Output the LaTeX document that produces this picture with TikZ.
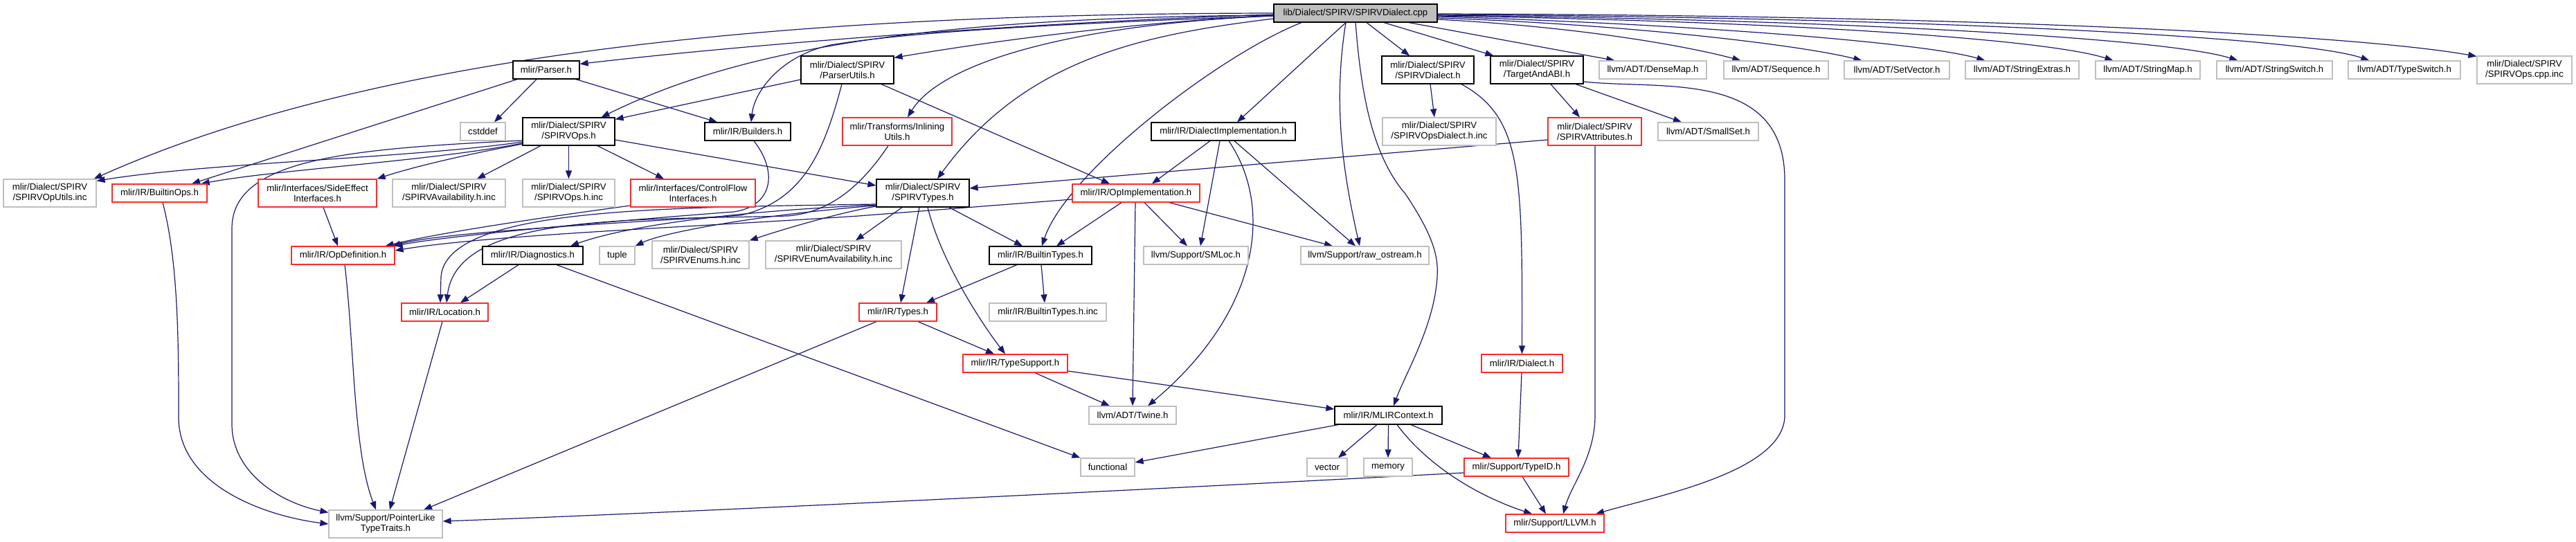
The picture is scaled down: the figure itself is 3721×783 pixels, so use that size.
\documentclass[tikz,border=0pt]{standalone}
\usepackage{fontspec}
\setmainfont{Liberation Sans}
\usetikzlibrary{arrows.meta}
\definecolor{edgec}{HTML}{191970}
\definecolor{grayb}{HTML}{BFBFBF}
\definecolor{redb}{HTML}{FF2A2A}
\definecolor{rootf}{HTML}{BFBFBF}
\pgfdeclarelayer{edgelayer}
\pgfsetlayers{edgelayer,main}
\begin{document}
\begin{tikzpicture}[x=1pt,y=-1pt,
  base/.style={rectangle, inner sep=0pt, align=center, font=\fontsize{13.2}{15}\selectfont, fill=white, line width=1.2pt},
  bb/.style={base, draw=black},
  gb/.style={base, draw=grayb},
  rb/.style={base, draw=redb},
  e/.style={draw=edgec, line width=1.2pt, -{Triangle[length=12pt,width=9pt]}, fill=none}]
\useasboundingbox (0,0) rectangle (3721,783);
% ---------- nodes ----------
\node[bb, fill=rootf, minimum width=236pt, minimum height=26pt] (root) at (1958,19) {lib/Dialect/SPIRV/SPIRVDialect.cpp};
\node[gb, minimum width=134pt, minimum height=40pt] (opUtils) at (72,279) {mlir/Dialect/SPIRV\\/SPIRVOpUtils.inc};
\node[rb, minimum width=137pt, minimum height=26pt] (builtinOps) at (230.5,279) {mlir/IR/BuiltinOps.h};
\node[rb, minimum width=171pt, minimum height=40pt] (sideEffect) at (458.5,279) {mlir/Interfaces/SideEffect\\Interfaces.h};
\node[gb, minimum width=163pt, minimum height=40pt] (spirvAvail) at (648.5,279) {mlir/Dialect/SPIRV\\/SPIRVAvailability.h.inc};
\node[rb, minimum width=149pt, minimum height=26pt] (opDef) at (495.5,369) {mlir/IR/OpDefinition.h};
\node[bb, minimum width=96pt, minimum height=26pt] (parser) at (789,101) {mlir/Parser.h};
\node[gb, minimum width=65pt, minimum height=26pt] (cstddef) at (697.5,190) {cstddef};
\node[bb, minimum width=133pt, minimum height=40pt] (spirvOps) at (821.5,190) {mlir/Dialect/SPIRV\\/SPIRVOps.h};
\node[bb, minimum width=124pt, minimum height=26pt] (builders) at (1080,190) {mlir/IR/Builders.h};
\node[bb, minimum width=134pt, minimum height=40pt] (parserUtils) at (1224,101) {mlir/Dialect/SPIRV\\/ParserUtils.h};
\node[rb, minimum width=158pt, minimum height=40pt] (inlining) at (1296,190) {mlir/Transforms/Inlining\\Utils.h};
\node[gb, minimum width=133pt, minimum height=40pt] (opsHInc) at (821.5,279) {mlir/Dialect/SPIRV\\/SPIRVOps.h.inc};
\node[rb, minimum width=180pt, minimum height=40pt] (controlFlow) at (1001,279) {mlir/Interfaces/ControlFlow\\Interfaces.h};
\node[bb, minimum width=145pt, minimum height=26pt] (diagnostics) at (769.5,369) {mlir/IR/Diagnostics.h};
\node[gb, minimum width=51pt, minimum height=26pt] (tuple) at (891.5,369) {tuple};
\node[gb, minimum width=140pt, minimum height=40pt] (enumsInc) at (1012,368) {mlir/Dialect/SPIRV\\/SPIRVEnums.h.inc};
\node[gb, minimum width=196pt, minimum height=40pt] (enumAvail) at (1204,368) {mlir/Dialect/SPIRV\\/SPIRVEnumAvailability.h.inc};
\node[bb, minimum width=134pt, minimum height=40pt] (spirvTypes) at (1333,279) {mlir/Dialect/SPIRV\\/SPIRVTypes.h};
\node[rb, minimum width=184pt, minimum height=26pt] (opImpl) at (1641,279) {mlir/IR/OpImplementation.h};
\node[bb, minimum width=208pt, minimum height=26pt] (dialectImpl) at (1767,190) {mlir/IR/DialectImplementation.h};
\node[bb, minimum width=148pt, minimum height=26pt] (builtinTypes) at (1503,369) {mlir/IR/BuiltinTypes.h};
\node[gb, minimum width=151pt, minimum height=26pt] (smloc) at (1727.5,369) {llvm/Support/SMLoc.h};
\node[bb, minimum width=133pt, minimum height=40pt] (spirvDialect) at (2062.5,101) {mlir/Dialect/SPIRV\\/SPIRVDialect.h};
\node[bb, minimum width=134pt, minimum height=40pt] (targetABI) at (2220,101) {mlir/Dialect/SPIRV\\/TargetAndABI.h};
\node[gb, minimum width=155pt, minimum height=26pt] (denseMap) at (2387.5,101) {llvm/ADT/DenseMap.h};
\node[gb, minimum width=164pt, minimum height=40pt] (opsDialectInc) at (2079,190) {mlir/Dialect/SPIRV\\/SPIRVOpsDialect.h.inc};
\node[rb, minimum width=135pt, minimum height=40pt] (spirvAttr) at (2303.5,190) {mlir/Dialect/SPIRV\\/SPIRVAttributes.h};
\node[gb, minimum width=145pt, minimum height=26pt] (smallSet) at (2467.5,190) {llvm/ADT/SmallSet.h};
\node[gb, minimum width=185pt, minimum height=26pt] (rawOstream) at (1971.5,369) {llvm/Support/raw\_ostream.h};
\node[gb, minimum width=151pt, minimum height=26pt] (sequence) at (2565.5,101) {llvm/ADT/Sequence.h};
\node[gb, minimum width=152pt, minimum height=26pt] (setVector) at (2740,101) {llvm/ADT/SetVector.h};
\node[gb, minimum width=164pt, minimum height=26pt] (stringExtras) at (2921,101) {llvm/ADT/StringExtras.h};
\node[gb, minimum width=151pt, minimum height=26pt] (stringMap) at (3102.5,101) {llvm/ADT/StringMap.h};
\node[gb, minimum width=167pt, minimum height=26pt] (stringSwitch) at (3285.5,101) {llvm/ADT/StringSwitch.h};
\node[gb, minimum width=162pt, minimum height=26pt] (typeSwitch) at (3473,101) {llvm/ADT/TypeSwitch.h};
\node[gb, minimum width=137pt, minimum height=40pt] (opsCppInc) at (3646.5,101) {mlir/Dialect/SPIRV\\/SPIRVOps.cpp.inc};
\node[gb, minimum width=164pt, minimum height=40pt] (pointerLike) at (557,757) {llvm/Support/PointerLike\\TypeTraits.h};
\node[rb, minimum width=125pt, minimum height=26pt] (location) at (642.5,451) {mlir/IR/Location.h};
\node[rb, minimum width=112pt, minimum height=26pt] (types) at (1297,451) {mlir/IR/Types.h};
\node[gb, minimum width=169pt, minimum height=26pt] (builtinTypesInc) at (1513.5,451) {mlir/IR/BuiltinTypes.h.inc};
\node[rb, minimum width=151pt, minimum height=26pt] (typeSupport) at (1466.5,525) {mlir/IR/TypeSupport.h};
\node[gb, minimum width=126pt, minimum height=26pt] (twine) at (1636,600) {llvm/ADT/Twine.h};
\node[gb, minimum width=78pt, minimum height=26pt] (functional) at (1600,675) {functional};
\node[rb, minimum width=117pt, minimum height=26pt] (dialect) at (2198.5,525) {mlir/IR/Dialect.h};
\node[bb, minimum width=155pt, minimum height=26pt] (mlirContext) at (2005.5,600) {mlir/IR/MLIRContext.h};
\node[gb, minimum width=58pt, minimum height=26pt] (vector) at (1917,675) {vector};
\node[gb, minimum width=70pt, minimum height=26pt] (memory) at (2005,675) {memory};
\node[rb, minimum width=151pt, minimum height=26pt] (typeID) at (2190.5,675) {mlir/Support/TypeID.h};
\node[rb, minimum width=142pt, minimum height=26pt] (llvmH) at (2246,756) {mlir/Support/LLVM.h};
\begin{pgfonlayer}{edgelayer}
% ---------- edges from root ----------
\draw[e] (root.west) .. controls (1300,20) and (600,50) .. ([xshift=-4pt]opUtils.north east);
\draw[e] ([yshift=-2pt]root.west) .. controls (1500,32) and (1100,62) .. ([yshift=-5pt]parser.north east);
\draw[e] ([yshift=-3pt]root.west) .. controls (1300,25) and (1050,80) .. ([xshift=47pt]spirvOps.north);
\draw[e] ([yshift=-4pt]root.west) .. controls (1500,35) and (1300,48) .. (1200,65) .. controls (1130,80) and (1090,130) .. ([xshift=5pt]builders.north);
\draw[e] ([yshift=-3pt]root.west) .. controls (1600,35) and (1400,65) .. ([yshift=-3pt]parserUtils.north east);
\draw[e] ([yshift=-4pt]root.west) .. controls (1550,35) and (1360,90) .. ([xshift=15pt]inlining.north);
\draw[e] ([yshift=-8pt]root.west) .. controls (1650,50) and (1480,85) .. ([xshift=21pt]spirvTypes.north);
\draw[e] ([xshift=-78pt]root.south) .. controls (1760,80) and (1540,250) .. ([xshift=2pt]builtinTypes.north);
\draw[e] ([xshift=-14pt]root.south) -- ([xshift=20pt]dialectImpl.north);
\draw[e] ([xshift=-14pt]root.south) .. controls (1925,150) and (1940,250) .. ([xshift=-7.5pt]rawOstream.north);
\draw[e] (root.south) .. controls (1965,120) and (1978,220) .. (2030,280) .. controls (2070,340) and (2078,370) .. (2076,400) .. controls (2072,470) and (2030,540) .. ([xshift=7.5pt]mlirContext.north);
\draw[e] ([xshift=16pt]root.south) -- ([xshift=-26.5pt]spirvDialect.north);
\draw[e] ([xshift=41pt]root.south) -- ([xshift=5pt]targetABI.north west);
\draw[e] ([xshift=77pt]root.south) -- ([xshift=23pt]denseMap.north west);
\draw[e] ([yshift=-9pt]root.east) .. controls (2300,40) and (2450,70) .. ([xshift=25pt]sequence.north west);
\draw[e] ([yshift=-7pt]root.east) .. controls (2350,35) and (2600,65) .. ([xshift=26pt]setVector.north west);
\draw[e] ([yshift=-5pt]root.east) .. controls (2450,35) and (2780,62) .. ([xshift=29pt]stringExtras.north west);
\draw[e] ([yshift=-4pt]root.east) .. controls (2550,30) and (2950,55) .. ([xshift=26pt]stringMap.north west);
\draw[e] ([yshift=-3pt]root.east) .. controls (2650,28) and (3130,55) .. ([xshift=31pt]stringSwitch.north west);
\draw[e] ([yshift=-2pt]root.east) .. controls (2750,25) and (3320,52) .. ([xshift=31pt]typeSwitch.north west);
\draw[e] ([yshift=-1pt]root.east) .. controls (2850,22) and (3400,50) .. ([yshift=-1pt]opsCppInc.north west);
% ---------- Parser.h ----------
\draw[e] ([xshift=-14pt]parser.south) -- ([xshift=16.5pt]cstddef.north);
\draw[e] ([xshift=-42pt]parser.south) -- ([xshift=46.5pt]builtinOps.north);
\draw[e] ([xshift=43pt]parser.south) -- ([xshift=-44pt]builders.north);
% ---------- ParserUtils.h ----------
\draw[e] ([yshift=-14pt]parserUtils.west) -- ([yshift=-3pt]spirvOps.north east);
\draw[e] ([xshift=49pt]parserUtils.south) -- ([xshift=-38pt]opImpl.north);
\draw[e] ([xshift=-8pt]parserUtils.south) .. controls (1190,220) and (1160,290) .. (1070,311) .. controls (900,322) and (640,335) .. ([xshift=-4pt]opDef.north east);
% ---------- SPIRVOps.h ----------
\draw[e] ([yshift=-15pt]spirvOps.west) .. controls (600,228) and (300,235) .. ([yshift=-3pt]opUtils.north east);
\draw[e] ([yshift=-17pt]spirvOps.west) .. controls (620,233) and (400,245) .. ([xshift=-9pt]builtinOps.north east);
\draw[e] ([yshift=-13pt]spirvOps.west) .. controls (500,215) and (335,230) .. (335,330) -- (335,613) .. controls (335,680) and (400,725) .. ([yshift=-4pt]pointerLike.north west);
\draw[e] ([yshift=-18pt]spirvOps.west) .. controls (680,222) and (600,240) .. (sideEffect.north east);
\draw[e] ([xshift=-40.5pt]spirvOps.south) -- ([xshift=40.5pt]spirvAvail.north);
\draw[e] (spirvOps.south) -- (opsHInc.north);
\draw[e] ([xshift=41.5pt]spirvOps.south) -- ([xshift=-42pt]controlFlow.north);
\draw[e] ([yshift=-12pt]spirvOps.east) -- ([yshift=11pt]spirvTypes.west);
% ---------- to OpDefinition ----------
\draw[e] ([xshift=8.5pt]sideEffect.south) -- ([xshift=-7.5pt]opDef.north);
\draw[e] ([yshift=-18pt]controlFlow.west) .. controls (800,312) and (640,335) .. ([xshift=-14pt]opDef.north east);
\draw[e] ([xshift=9pt]builders.south) .. controls (1125,250) and (1115,298) .. (1060,306) .. controls (900,318) and (650,340) .. ([xshift=-1pt]opDef.north east);
\draw[e] ([yshift=-9pt]opImpl.west) -- (1240,312) .. controls (1000,328) and (700,340) .. ([yshift=7pt]opDef.east);
% ---------- SPIRVTypes.h ----------
\draw[e] ([yshift=-16pt]spirvTypes.west) .. controls (950,300) and (645,300) .. (637,400) -- ([xshift=-6.5pt]location.north);
\draw[e] ([yshift=-17pt]spirvTypes.west) .. controls (1000,308) and (880,335) .. ([xshift=54.5pt]diagnostics.north);
\draw[e] ([yshift=-18pt]spirvTypes.west) .. controls (1100,310) and (960,335) .. (tuple.north east);
\draw[e] ([yshift=-19pt]spirvTypes.west) .. controls (1200,310) and (1120,335) .. (enumsInc.north east);
\draw[e] ([xshift=-30pt]spirvTypes.south) -- ([xshift=32pt]enumAvail.north);
\draw[e] ([xshift=-5pt]spirvTypes.south) -- ([xshift=4pt]types.north);
\draw[e] ([xshift=7pt]spirvTypes.south) .. controls (1360,380) and (1420,470) .. ([xshift=-14.5pt]typeSupport.north);
\draw[e] ([xshift=38pt]spirvTypes.south) -- ([xshift=-26pt]builtinTypes.north);
% ---------- InliningUtils ----------
\draw[e] ([xshift=-13pt]inlining.south) .. controls (1230,290) and (1180,308) .. (1138,312) .. controls (900,318) and (660,310) .. ([xshift=2.5pt]location.north);
% ---------- OpImplementation ----------
\draw[e] ([xshift=-21pt]opImpl.south) -- ([xshift=23pt]builtinTypes.north);
\draw[e] ([xshift=12pt]opImpl.south) -- ([xshift=-12.5pt]smloc.north);
\draw[e] ([xshift=-1pt]opImpl.south) -- (twine.north);
\draw[e] ([xshift=48pt]opImpl.south) -- ([xshift=-46.5pt]rawOstream.north);
% ---------- DialectImplementation ----------
\draw[e] ([xshift=-19pt]dialectImpl.south) -- ([xshift=23pt]opImpl.north);
\draw[e] ([xshift=-5pt]dialectImpl.south) -- ([xshift=6.5pt]smloc.north);
\draw[e] ([xshift=8pt]dialectImpl.south) .. controls (1840,300) and (1820,450) .. ([xshift=22pt]twine.north);
\draw[e] ([xshift=16pt]dialectImpl.south) -- ([xshift=-13.5pt]rawOstream.north);
% ---------- BuiltinTypes / Types / TypeSupport ----------
\draw[e] ([xshift=-34pt]builtinTypes.south) -- ([xshift=41pt]types.north);
\draw[e] ([xshift=1pt]builtinTypes.south) -- ([xshift=-4.5pt]builtinTypesInc.north);
\draw[e] ([xshift=29pt]types.south) -- ([xshift=-30.5pt]typeSupport.north);
\draw[e] ([xshift=-31pt]types.south) -- ([xshift=55pt]pointerLike.north);
\draw[e] ([xshift=28.5pt]typeSupport.south) -- ([xshift=-33pt]twine.north);
\draw[e] ([yshift=-11pt]typeSupport.east) -- ([yshift=9pt]mlirContext.west);
% ---------- Diagnostics / Location / OpDefinition / BuiltinOps ----------
\draw[e] ([xshift=-20.5pt]diagnostics.south) -- ([xshift=22.5pt]location.north);
\draw[e] ([xshift=34.5pt]diagnostics.south) -- (functional.north west);
\draw[e] ([xshift=-3.5pt]location.south) -- ([xshift=6pt]pointerLike.north);
\draw[e] ([xshift=2.5pt]opDef.south) .. controls (512,500) and (510,650) .. ([xshift=-14pt]pointerLike.north);
\draw[e] ([xshift=4.5pt]builtinOps.south) .. controls (258,380) and (258,500) .. (258,603) .. controls (258,700) and (380,745) .. (pointerLike.west);
\draw[e] ([yshift=-8pt]typeID.west) .. controls (1700,705) and (1000,740) .. ([yshift=4pt]pointerLike.east);
% ---------- MLIRContext ----------
\draw[e] ([xshift=-72.5pt]mlirContext.south) -- ([yshift=7pt]functional.east);
\draw[e] ([xshift=-16.5pt]mlirContext.south) -- ([xshift=16pt]vector.north);
\draw[e] (mlirContext.south) -- (memory.north);
\draw[e] ([xshift=32.5pt]mlirContext.south) -- ([xshift=-36.5pt]typeID.north);
\draw[e] ([xshift=12.5pt]mlirContext.south) .. controls (2060,670) and (2130,715) .. ([xshift=-33pt]llvmH.north);
\draw[e] ([xshift=8.5pt]typeID.south) -- ([xshift=-13pt]llvmH.north);
\draw[e] ([xshift=-0.5pt]dialect.south) -- ([xshift=2.5pt]typeID.north);
% ---------- SPIRVDialect / TargetAndABI / Attributes ----------
\draw[e] ([xshift=48.5pt]spirvDialect.south) .. controls (2199,170) and (2199,250) .. (dialect.north);
\draw[e] ([xshift=3.5pt]spirvDialect.south) -- ([xshift=-7pt]opsDialectInc.north);
\draw[e] ([xshift=20pt]targetABI.south) -- ([xshift=-21.5pt]spirvAttr.north);
\draw[e] ([xshift=56pt]targetABI.south) -- ([xshift=-38.5pt]smallSet.north);
\draw[e] ([yshift=-17pt]targetABI.east) .. controls (2400,130) and (2578,100) .. (2578,260) -- (2578,600) .. controls (2578,680) and (2400,715) .. ([xshift=59pt]llvmH.north);
\draw[e] ([xshift=0.5pt]spirvAttr.south) -- (2304,600) .. controls (2304,660) and (2270,700) .. ([xshift=12pt]llvmH.north);
\draw[e] ([yshift=-12pt]spirvAttr.west) -- ([yshift=7pt]spirvTypes.east);
\end{pgfonlayer}
\end{tikzpicture}
\end{document}
